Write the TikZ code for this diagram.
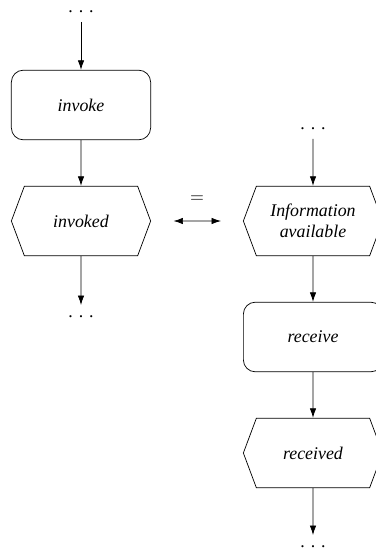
\documentclass[tikz,border=0pt]{standalone}
\usepackage{fontspec}
\setmainfont{Liberation Serif}
\usetikzlibrary{arrows.meta,positioning,shapes.symbols}

\newcommand{\wdots}{.\kern3.3pt.\kern3.3pt.}

\begin{document}
\begin{tikzpicture}[x=0.56pt,y=-0.56pt,
        fnbox/.style={draw,rounded corners=6.7pt,minimum width=78pt,minimum height=39pt,font=\itshape,align=center},
        evbox/.style={draw,signal,signal from=nowhere,signal to={west and east},signal pointer angle=139,minimum width=78pt,minimum height=39pt,inner xsep=0pt,font=\itshape,align=center},
        dotsnode/.style={inner sep=0pt,outer sep=5.5pt,anchor=base,text height=1.2pt,text depth=0pt},
        flow/.style={-{Latex[length=5.3pt,width=3.6pt]}}]
        \useasboundingbox (0,0) rectangle (376,549);

        % left column
        \node[dotsnode] (dotsA) at (81,12) {\wdots};
        \node[fnbox] (invoke) at (81,105) {invoke};
        \node[evbox] (invoked) at (81,221) {invoked};
        \node[dotsnode] (dotsB) at (81,317) {\wdots};

        % right column
        \node[dotsnode] (dotsC) at (313,129) {\wdots};
        \node[evbox] (info) at (313,221) {Information\\available};
        \node[fnbox] (receive) at (313,337) {receive};
        \node[evbox] (received) at (313,453) {received};
        \node[dotsnode] (dotsD) at (313,547) {\wdots};

        \draw[flow] (dotsA) -- (invoke);
        \draw[flow] (invoke) -- (invoked);
        \draw[flow] (invoked) -- (dotsB);
        \draw[flow] (dotsC) -- (info);
        \draw[flow] (info) -- (receive);
        \draw[flow] (receive) -- (received);
        \draw[flow] (received) -- (dotsD);

        % equivalence
        \draw[{Latex[length=5.3pt,width=3.6pt]}-{Latex[length=5.3pt,width=3.6pt]},shorten <=12.6pt,shorten >=12.3pt] (invoked) -- node[above=7pt] {$=$} (info);
\end{tikzpicture}
\end{document}
